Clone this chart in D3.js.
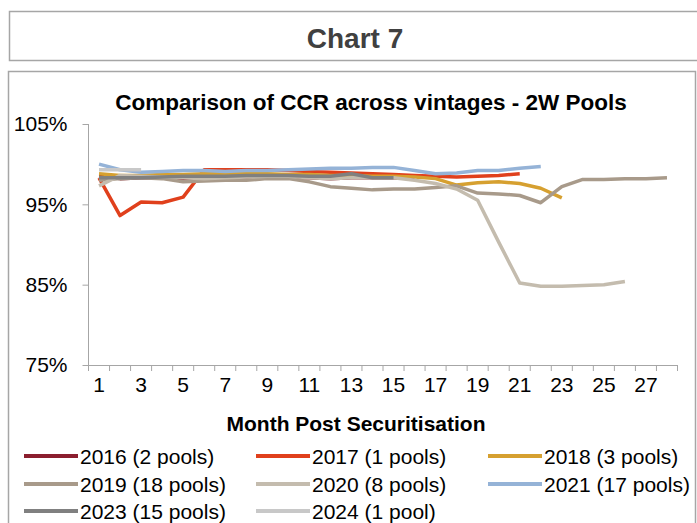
<!DOCTYPE html>
<html><head><meta charset="utf-8">
<script src="https://cdn.jsdelivr.net/npm/d3@7"></script>
<style>body{margin:0;background:#fff}svg{display:block;font-family:"Liberation Sans",Arial,sans-serif}</style>
</head><body><svg id="c" width="697" height="523"></svg>
<script>
const months = d3.range(1, 29);
const xTickLabels = [1,3,5,7,9,11,13,15,17,19,21,23,25,27];
const yTicks = [0.75, 0.85, 0.95, 1.05];
const seriesNames = ["2016 (2 pools)","2017 (1 pools)","2018 (3 pools)","2019 (18 pools)","2020 (8 pools)","2021 (17 pools)","2023 (15 pools)","2024 (1 pool)"];
const seriesColors = ["#8B1E2E","#E0401C","#D6A030","#A89A8A","#C4BCAE","#95B3D7","#808080","#C8C8C8"];
const v2016 = [98.5,98.2,98.3,98.3,98.0,98.2,98.2,98.2,98.3,98.3,98.3,98.2,98.3,98.3,98.3,98.2];
const v2017 = [98.3,93.6,95.3,95.2,95.9,99.3,99.3,99.3,99.3,99.2,99.1,99.0,98.9,98.8,98.7,98.6,98.5,98.4,98.5,98.6,98.8];
const v2018 = [98.8,98.6,98.6,98.7,98.7,98.8,98.8,98.8,98.8,98.7,98.7,98.6,98.6,98.5,98.5,98.4,98.2,97.4,97.7,97.8,97.6,97.0,95.8];
const v2019 = [98.0,98.2,98.3,98.2,97.8,97.9,98.0,98.0,98.2,98.2,97.8,97.2,97.0,96.8,96.9,96.9,97.1,97.3,96.4,96.3,96.1,95.2,97.2,98.1,98.1,98.2,98.2,98.3];
const v2020 = [97.3,98.6,98.5,98.4,98.3,98.2,98.3,98.4,98.5,98.5,98.3,98.2,98.3,98.3,98.3,98.0,97.6,96.9,95.5,90.3,85.2,84.8,84.8,84.9,85.0,85.4];
const v2021 = [100.0,99.3,99.0,99.1,99.2,99.2,99.1,99.2,99.2,99.3,99.4,99.5,99.5,99.6,99.6,99.2,98.8,98.9,99.2,99.2,99.5,99.7];
const v2023 = [98.3,98.3,98.3,98.4,98.5,98.5,98.5,98.6,98.6,98.6,98.5,98.5,98.8,98.3,98.3];
const v2024 = [99.3,99.3,99.3];
const seriesValues = [v2016,v2017,v2018,v2019,v2020,v2021,v2023,v2024];

const svg = d3.select("#c");
// frames
svg.append("rect").attr("x",9.5).attr("y",11.5).attr("width",700).attr("height",49)
  .attr("fill","none").attr("stroke","#A6A6A6").attr("stroke-width",1.5);
svg.append("rect").attr("x",8.5).attr("y",71.5).attr("width",687).attr("height",480)
  .attr("fill","none").attr("stroke","#A6A6A6").attr("stroke-width",1.5);
svg.append("text").attr("x",355).attr("y",48).attr("text-anchor","middle")
  .attr("font-size",28).attr("font-weight","bold").attr("fill","#404040").text("Chart 7");
svg.append("text").attr("x",371).attr("y",110).attr("text-anchor","middle")
  .attr("font-size",22.5).attr("font-weight","bold").attr("fill","#000").text("Comparison of CCR across vintages - 2W Pools");

const x = d3.scaleBand().domain(months).range([88.5, 677.5]);
const y = d3.scaleLinear().domain([0.75, 1.05]).range([365, 124]);

const xa = svg.append("g").attr("transform","translate(0,365)")
  .call(d3.axisBottom(x).tickSize(0).tickFormat(d => xTickLabels.includes(d) ? d : ""));
xa.select(".domain").attr("stroke","#A6A6A6");
xa.selectAll("text").attr("font-size",21).attr("fill","#000").attr("dy","0.72em").attr("y",12).attr("font-family","Liberation Sans, Arial, sans-serif");
// boundary ticks
svg.append("g").selectAll("line").data(d3.range(0,29)).join("line")
  .attr("x1", i => 88.5 + i*x.step()).attr("x2", i => 88.5 + i*x.step())
  .attr("y1",365).attr("y2",371).attr("stroke","#A6A6A6");

const ya = svg.append("g").attr("transform","translate(88.5,0)")
  .call(d3.axisLeft(y).tickValues(yTicks).tickSize(6).tickFormat(d3.format(".0%")));
ya.select(".domain").attr("stroke","#A6A6A6").attr("d","M0,124V365");
ya.selectAll(".tick line").attr("stroke","#A6A6A6");
ya.selectAll("text").attr("font-size",21).attr("fill","#000").attr("x",-21).attr("font-family","Liberation Sans, Arial, sans-serif");

svg.append("text").attr("x",356).attr("y",431).attr("text-anchor","middle")
  .attr("font-size",21).attr("font-weight","bold").text("Month Post Securitisation");

const line = d3.line().x((d,i) => x(i+1) + x.bandwidth()/2).y(d => y(d/100));
seriesValues.forEach((vals,i) => {
  svg.append("path").datum(vals).attr("d", line).attr("fill","none")
    .attr("stroke", seriesColors[i]).attr("stroke-width",3.5).attr("stroke-linejoin","round");
});

// legend
const colX = [24, 256, 488];
const rowY = [456, 484, 511];
seriesNames.forEach((n,i) => {
  const cx = colX[i%3], cy = rowY[Math.floor(i/3)];
  svg.append("line").attr("x1",cx).attr("x2",cx+54).attr("y1",cy).attr("y2",cy)
    .attr("stroke",seriesColors[i]).attr("stroke-width",4);
  svg.append("text").attr("x",cx+56).attr("y",cy+7.5).attr("font-size",21).text(n);
});
</script></body></html>
